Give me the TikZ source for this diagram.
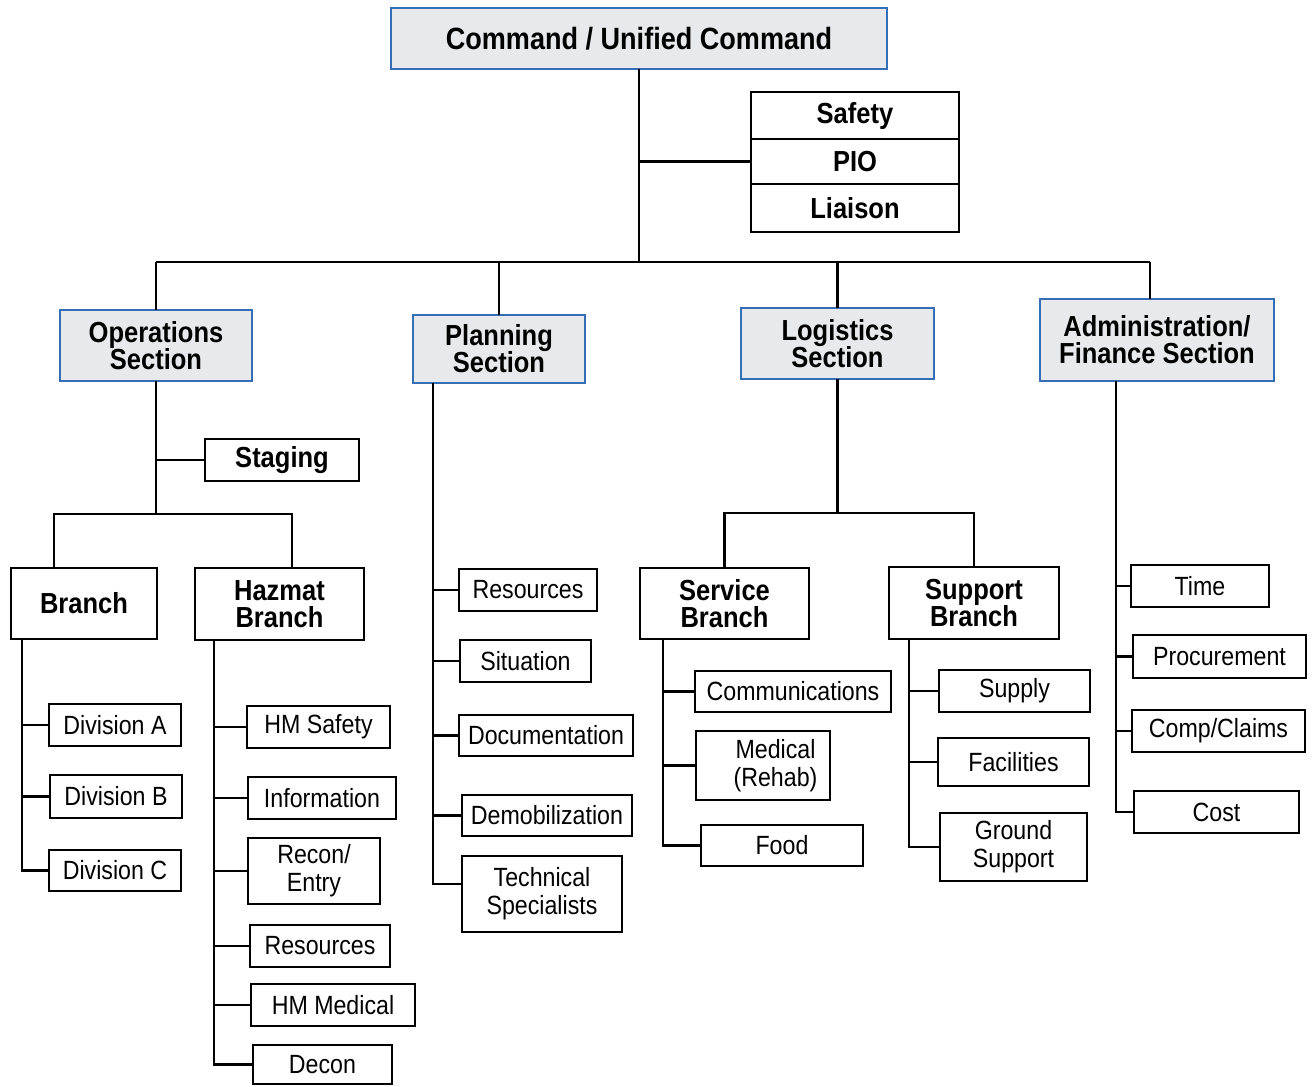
\documentclass[tikz,border=0pt]{standalone}
\usepackage{fontspec}
\setmainfont{Liberation Sans}[FakeStretch=0.88]
\usetikzlibrary{calc}
\definecolor{hblue}{RGB}{52,110,180}
\definecolor{hgray}{RGB}{232,233,236}
\newcommand{\mkbox}[7]{\node[#1, minimum width={(#4-#2)*0.02cm}, minimum height={(#5-#3)*0.02cm}] (#6) at ({(#2+#4)/2},{(#3+#5)/2}) {#7};}
\tikzset{
  box/.style={draw=black, line width=1.3pt, fill=white, inner sep=0pt, outer sep=0pt, align=center,
    font=\fontsize{15}{16}\selectfont},
  bbox/.style={box, font=\fontsize{16.5}{15.5}\selectfont\bfseries},
  hdr/.style={bbox, draw=hblue, fill=hgray, line width=1.5pt},
  link/.style={draw=black, line width=1.4pt},
}
\begin{document}
\begin{tikzpicture}[x=0.02cm,y=-0.02cm]
\path[use as bounding box] (0,0) rectangle (1315,1086);
% nodes
\mkbox{hdr, font=\fontsize{17.5}{17}\selectfont\bfseries}{391}{8}{887}{69}{cmd}{Command / Unified Command}
\mkbox{bbox}{751}{92}{959}{139}{safety}{Safety}
\mkbox{bbox}{751}{139}{959}{184}{pio}{PIO}
\mkbox{bbox}{751}{184}{959}{232}{liaison}{Liaison}
\mkbox{hdr}{60}{310}{252}{381}{ops}{Operations\\Section}
\mkbox{hdr}{413}{315}{585}{383}{plan}{Planning\\Section}
\mkbox{hdr}{741}{308}{934}{379}{log}{Logistics\\Section}
\mkbox{hdr}{1040}{299}{1274}{381}{adm}{Administration/\\Finance Section}
\mkbox{bbox}{205}{439}{359}{481}{staging}{Staging}
\mkbox{bbox}{11}{568}{157}{639}{branch}{Branch}
\mkbox{bbox}{195}{568}{364}{640}{hazmat}{Hazmat\\Branch}
\mkbox{box}{49}{704}{181}{746}{divA}{Division A}
\mkbox{box}{50}{775}{182}{818}{divB}{Division B}
\mkbox{box}{49}{850}{181}{891}{divC}{Division C}
\mkbox{box}{247}{706}{390}{748}{hmsafety}{HM Safety}
\mkbox{box}{248}{777}{396}{819}{info}{Information}
\mkbox{box}{248}{838}{380}{904}{recon}{Recon/\\Entry}
\mkbox{box}{250}{925}{390}{967}{hres}{Resources}
\mkbox{box}{251}{984}{415}{1026}{hmmed}{HM Medical}
\mkbox{box}{253}{1045}{392}{1084}{decon}{Decon}
\mkbox{box}{459}{569}{597}{611}{pres}{Resources}
\mkbox{box}{460}{640}{591}{682}{situ}{Situation}
\mkbox{box}{459}{715}{633}{756}{doc}{Documentation}
\mkbox{box}{462}{795}{632}{836}{demob}{Demobilization}
\mkbox{box}{462}{856}{622}{932}{tech}{Technical\\Specialists}
\mkbox{bbox}{640}{568}{809}{639}{service}{Service\\Branch}
\mkbox{bbox}{889}{567}{1059}{639}{support}{Support\\Branch}
\mkbox{box}{695}{671}{891}{712}{comm}{Communications}
\mkbox{box}{696}{731}{830}{800}{medical}{\hspace*{0.5cm}Medical\\\hspace*{0.5cm}(Rehab)}
\mkbox{box}{701}{825}{863}{866}{food}{Food}
\mkbox{box}{939}{670}{1090}{712}{supply}{Supply}
\mkbox{box}{938}{738}{1089}{786}{facil}{Facilities}
\mkbox{box}{940}{813}{1087}{881}{ground}{Ground\\Support}
\mkbox{box}{1131}{565}{1269}{607}{time}{Time}
\mkbox{box}{1133}{635}{1306}{678}{proc}{Procurement}
\mkbox{box}{1132}{710}{1305}{752}{comp}{Comp/Claims}
\mkbox{box}{1134}{791}{1299}{833}{cost}{Cost}
% junction coordinates
\coordinate (bar) at (640,262);
\coordinate (admT) at ($(adm.north west)+(110,0)$);
\coordinate (opsJ) at ($(ops.south)+(0,133)$);
\coordinate (brIn) at ($(branch.north west)+(43,0)$);
\coordinate (hzIn) at ($(hazmat.north west)+(97,0)$);
\coordinate (brT) at ($(branch.south west)+(11,0)$);
\coordinate (hzT) at ($(hazmat.south west)+(19,0)$);
\coordinate (plT) at ($(plan.south west)+(20,0)$);
\coordinate (techIn) at ($(tech.west)+(0,-10)$);
\coordinate (logJ) at ($(log.south)+(0,134)$);
\coordinate (svT) at ($(service.south west)+(23,0)$);
\coordinate (spT) at ($(support.south west)+(20,0)$);
\coordinate (adT) at ($(adm.south west)+(76,0)$);
% command level
\draw[link] (cmd.south) -- (cmd.south |- bar);
\draw[link] (pio.west) -- (pio.west -| cmd.south);
\draw[link] (ops.north |- bar) -- (admT |- bar);
\draw[link] (ops.north) -- (ops.north |- bar);
\draw[link] (plan.north) -- (plan.north |- bar);
\draw[link] (log.north) -- (log.north |- bar);
\draw[link] (admT) -- (admT |- bar);
% operations
\draw[link] (ops.south) -- (opsJ);
\draw[link] (staging.west) -- (staging.west -| ops.south);
\draw[link] (brIn) |- (opsJ);
\draw[link] (hzIn) |- (opsJ);
\draw[link] (brT) |- (divC.west);
\draw[link] (divA.west) -- (divA.west -| brT);
\draw[link] (divB.west) -- (divB.west -| brT);
\draw[link] (hzT) |- (decon.west);
\draw[link] (hmsafety.west) -- (hmsafety.west -| hzT);
\draw[link] (info.west) -- (info.west -| hzT);
\draw[link] (recon.west) -- (recon.west -| hzT);
\draw[link] (hres.west) -- (hres.west -| hzT);
\draw[link] (hmmed.west) -- (hmmed.west -| hzT);
% planning
\draw[link] (plT) |- (techIn);
\draw[link] (pres.west) -- (pres.west -| plT);
\draw[link] (situ.west) -- (situ.west -| plT);
\draw[link] (doc.west) -- (doc.west -| plT);
\draw[link] (demob.west) -- (demob.west -| plT);
% logistics
\draw[link] (log.south) -- (logJ);
\draw[link] (service.north) |- (logJ);
\draw[link] (support.north) |- (logJ);
\draw[link] (svT) |- (food.west);
\draw[link] (comm.west) -- (comm.west -| svT);
\draw[link] (medical.west) -- (medical.west -| svT);
\draw[link] (spT) |- (ground.west);
\draw[link] (supply.west) -- (supply.west -| spT);
\draw[link] (facil.west) -- (facil.west -| spT);
% administration / finance
\draw[link] (adT) |- (cost.west);
\draw[link] (time.west) -- (time.west -| adT);
\draw[link] (proc.west) -- (proc.west -| adT);
\draw[link] (comp.west) -- (comp.west -| adT);
\end{tikzpicture}
\end{document}
